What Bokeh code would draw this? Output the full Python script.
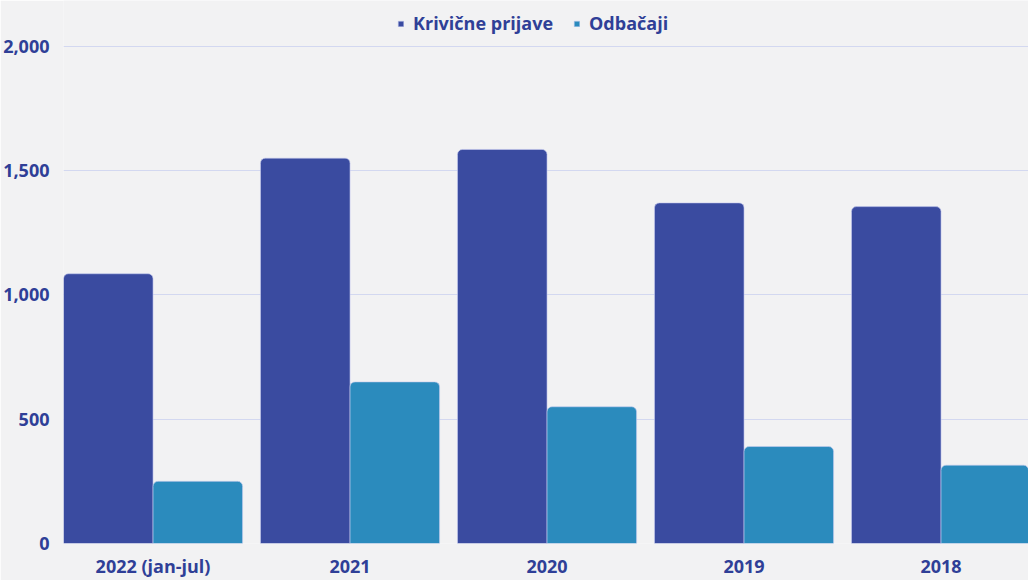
from bokeh.plotting import figure
from bokeh.models import ColumnDataSource, Range1d, FixedTicker, NumeralTickFormatter, Legend, LegendItem
from bokeh.transform import dodge
from bokeh.embed import file_html
from bokeh.resources import INLINE

categories = ["2022 (jan-jul)", "2021", "2020", "2019", "2018"]
krivicne_prijave = [1085, 1550, 1585, 1370, 1355]
odbacaji = [250, 650, 550, 390, 315]
series_names = ["Krivične prijave", "Odbačaji"]
y_ticks = [0, 500, 1000, 1500, 2000]

TEXT = "#2f3f97"
C_K = "#3a4ba0"
C_O = "#2b8bbd"
BG = "#f2f2f3"
FONT = "Open Sans"

src = ColumnDataSource(dict(x=list(range(len(categories))), k=krivicne_prijave, o=odbacaji))

p = figure(width=1028, height=580, output_backend="svg", toolbar_location=None,
           x_range=Range1d(-0.4545, 4.444), y_range=Range1d(0, 2184),
           min_border_left=58, min_border_right=0, min_border_top=0, min_border_bottom=34)
p.background_fill_color = BG
p.border_fill_color = BG
p.outline_line_color = None

bw = 0.4545
rk = p.vbar(x=dodge("x", -bw / 2, range=p.x_range), top="k", width=bw, source=src,
            fill_color=C_K, line_color="#c8cdf0", line_width=1, line_alpha=0.6,
            border_radius=(5, 5, 0, 0))
ro = p.vbar(x=dodge("x", bw / 2, range=p.x_range), top="o", width=bw, source=src,
            fill_color=C_O, line_color="#c8cdf0", line_width=1, line_alpha=0.6,
            border_radius=(5, 5, 0, 0))

p.xaxis.ticker = FixedTicker(ticks=list(range(len(categories))))
p.xaxis.major_label_overrides = {i: c for i, c in enumerate(categories)}
p.yaxis.ticker = FixedTicker(ticks=y_ticks)
p.yaxis.formatter = NumeralTickFormatter(format="0,0")

for ax in (p.xaxis[0], p.yaxis[0]):
    ax.axis_line_color = None
    ax.major_tick_line_color = None
    ax.minor_tick_line_color = None
    ax.major_tick_out = 0
    ax.major_tick_in = 0
    ax.major_label_text_font = FONT
    ax.major_label_text_font_style = "bold"
    ax.major_label_text_font_size = "18px"
    ax.major_label_text_color = TEXT
p.xaxis.major_label_standoff = 10
p.yaxis.major_label_standoff = 14

p.xgrid.grid_line_color = None
p.ygrid.grid_line_color = "#d3d8f0"
p.ygrid.grid_line_width = 1

legend = Legend(items=[LegendItem(label=series_names[0], renderers=[rk]),
                       LegendItem(label=series_names[1], renderers=[ro])],
                location=(334, 508), orientation="horizontal",
                glyph_width=7, glyph_height=7, label_standoff=9, spacing=20,
                padding=12, margin=0,
                label_text_font=FONT, label_text_font_style="bold",
                label_text_font_size="18px", label_text_color=TEXT,
                background_fill_alpha=0, border_line_color=None)
p.add_layout(legend)

open("out.html", "w").write(file_html(p, INLINE))
